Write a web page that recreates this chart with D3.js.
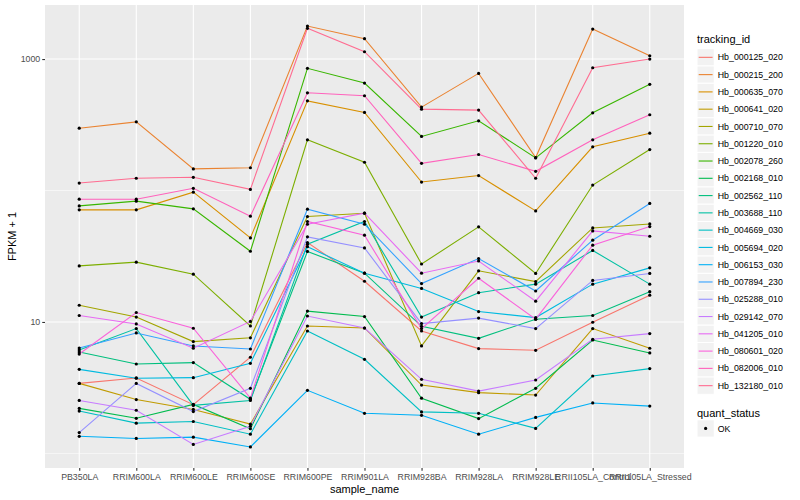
<!DOCTYPE html>
<html>
<head>
<meta charset="utf-8">
<script src="https://cdn.jsdelivr.net/npm/d3@7/dist/d3.min.js"></script>
<style>
  body { margin: 0; background: #fff; }
  text { font-family: "Liberation Sans", Arial, sans-serif; }
</style>
</head>
<body>
<svg id="chart" width="800" height="500"></svg>
<script>
// samples on the x axis
var samples = ["PB350LA", "RRIM600LA", "RRIM600LE", "RRIM600SE", "RRIM600PE", "RRIM901LA",
  "RRIM928BA", "RRIM928LA", "RRIM928LE", "RRII105LA_Control", "RRII105LA_Stressed"];

// FPKM + 1 per tracking id, one value per sample
var hb_000125_020 = [3.41, 3.75, 2.35, 5.39, 40.2, 20.4, 8.54, 6.27, 6.09, 9.95, 16.0];
var hb_000215_200 = [298, 333, 146, 149, 1783, 1428, 431, 778, 178, 1692, 1060];
var hb_000635_070 = [71.3, 71.3, 97.1, 43.6, 481, 393, 116, 130, 70.0, 215, 273];
var hb_000641_020 = [3.41, 2.57, 2.16, 1.67, 9.32, 9.00, 3.31, 2.90, 2.78, 8.91, 6.31];
var hb_000710_070 = [13.4, 10.9, 7.09, 7.58, 63.4, 67.2, 6.57, 24.5, 20.3, 51.9, 55.7];
var hb_001220_010 = [26.7, 28.5, 23.1, 9.32, 243, 164, 27.6, 52.9, 23.4, 110, 205];
var hb_002078_260 = [76.4, 83.0, 72.5, 34.5, 850, 657, 258, 339, 177, 390, 642];
var hb_002168_010 = [2.20, 1.85, 2.36, 1.54, 12.1, 11.0, 2.63, 1.84, 3.13, 7.29, 5.81];
var hb_002562_110 = [5.91, 4.79, 4.91, 2.58, 34.4, 23.5, 9.27, 7.51, 10.5, 11.2, 17.0];
var hb_003688_110 = [6.12, 8.91, 2.32, 2.53, 39.0, 58.1, 10.9, 16.7, 19.4, 35.0, 19.4];
var hb_004669_030 = [2.10, 1.70, 1.75, 1.40, 8.54, 5.20, 2.07, 2.02, 1.55, 3.88, 4.42];
var hb_005694_020 = [4.36, 3.73, 3.77, 4.85, 37.4, 23.5, 18.0, 12.0, 10.8, 19.4, 25.8];
var hb_006153_030 = [1.35, 1.30, 1.33, 1.12, 3.02, 2.02, 1.95, 1.40, 1.88, 2.42, 2.29];
var hb_007894_230 = [6.34, 8.25, 6.57, 6.23, 72.1, 55.4, 19.6, 30.4, 17.2, 41.9, 79.7];
var hb_025288_010 = [1.44, 3.41, 2.08, 3.13, 44.4, 36.6, 9.72, 10.7, 8.91, 20.7, 23.4];
var hb_029142_070 = [2.53, 2.13, 1.17, 1.61, 11.1, 9.00, 3.66, 2.98, 3.62, 7.38, 8.16];
var hb_041205_010 = [11.2, 9.66, 6.31, 10.1, 55.4, 67.2, 23.5, 29.1, 14.4, 49.3, 44.9];
var hb_080601_020 = [5.70, 11.8, 8.96, 2.63, 58.1, 45.7, 8.91, 21.5, 10.5, 38.4, 53.2];
var hb_082006_010 = [85.9, 85.9, 104, 63.8, 554, 526, 161, 188, 140, 243, 377];
var hb_132180_010 = [114, 124, 126, 102, 1713, 1137, 416, 409, 124, 859, 1000];

var trackingIds = ["Hb_000125_020", "Hb_000215_200", "Hb_000635_070", "Hb_000641_020", "Hb_000710_070",
  "Hb_001220_010", "Hb_002078_260", "Hb_002168_010", "Hb_002562_110", "Hb_003688_110",
  "Hb_004669_030", "Hb_005694_020", "Hb_006153_030", "Hb_007894_230", "Hb_025288_010",
  "Hb_029142_070", "Hb_041205_010", "Hb_080601_020", "Hb_082006_010", "Hb_132180_010"];
var seriesValues = [hb_000125_020, hb_000215_200, hb_000635_070, hb_000641_020, hb_000710_070,
  hb_001220_010, hb_002078_260, hb_002168_010, hb_002562_110, hb_003688_110,
  hb_004669_030, hb_005694_020, hb_006153_030, hb_007894_230, hb_025288_010,
  hb_029142_070, hb_041205_010, hb_080601_020, hb_082006_010, hb_132180_010];
var quantStatus = ["OK"];
var yTicks = [10, 1000];
var yMinor = [1, 100];

// default ggplot hue palette for 20 groups
var palette = ["#F8766D", "#EA8331", "#D89000", "#C09B00", "#A3A500", "#7CAE00", "#39B600", "#00BB4E",
  "#00BF7D", "#00C1A3", "#00BFC4", "#00BAE0", "#00B0F6", "#35A2FF", "#9590FF", "#C77CFF",
  "#E76BF3", "#FA62DB", "#FF62BC", "#FF6C91"];

var series = trackingIds.map(function(id, i) {
  return { id: id, values: seriesValues[i].map(function(v, j) { return { sample: samples[j], value: v }; }) };
});

// panel box
var panel = { left: 45, right: 684, top: 5, bottom: 468 };
var svg = d3.select("#chart");

var x = d3.scalePoint()
  .domain(samples)
  .range([panel.left, panel.right])
  .padding(0.6);

// log scale with ggplot's 5% expansion
var all = d3.merge(seriesValues);
var lo = Math.log10(d3.min(all)), hi = Math.log10(d3.max(all));
var pad = (hi - lo) * 0.05;
var y = d3.scaleLog()
  .domain([Math.pow(10, lo - pad), Math.pow(10, hi + pad)])
  .range([panel.bottom, panel.top]);

var color = d3.scaleOrdinal().domain(trackingIds).range(palette);

svg.append("rect")
  .attr("x", panel.left).attr("y", panel.top)
  .attr("width", panel.right - panel.left).attr("height", panel.bottom - panel.top)
  .attr("fill", "#EBEBEB");

// grid
svg.append("g").selectAll("line").data(yMinor).enter().append("line")
  .attr("x1", panel.left).attr("x2", panel.right)
  .attr("y1", function(d) { return y(d); }).attr("y2", function(d) { return y(d); })
  .attr("stroke", "#fff").attr("stroke-width", 0.55);
svg.append("g").selectAll("line").data(yTicks).enter().append("line")
  .attr("x1", panel.left).attr("x2", panel.right)
  .attr("y1", function(d) { return y(d); }).attr("y2", function(d) { return y(d); })
  .attr("stroke", "#fff").attr("stroke-width", 1.1);
svg.append("g").selectAll("line").data(samples).enter().append("line")
  .attr("x1", function(d) { return x(d); }).attr("x2", function(d) { return x(d); })
  .attr("y1", panel.top).attr("y2", panel.bottom)
  .attr("stroke", "#fff").attr("stroke-width", 1.1);

// lines then points
var line = d3.line()
  .x(function(d) { return x(d.sample); })
  .y(function(d) { return y(d.value); });

svg.append("g").selectAll("path").data(series).enter().append("path")
  .attr("d", function(d) { return line(d.values); })
  .attr("fill", "none")
  .attr("stroke", function(d) { return color(d.id); })
  .attr("stroke-width", 1.1);

svg.append("g").selectAll("circle")
  .data(d3.merge(series.map(function(s) { return s.values; })))
  .enter().append("circle")
  .attr("cx", function(d) { return x(d.sample); })
  .attr("cy", function(d) { return y(d.value); })
  .attr("r", 1.6)
  .attr("fill", "#000");

// axes
var xAxis = svg.append("g")
  .attr("transform", "translate(0," + panel.bottom + ")")
  .call(d3.axisBottom(x).tickSize(2.75).tickPadding(3));
var yAxis = svg.append("g")
  .attr("transform", "translate(" + panel.left + ",0)")
  .call(d3.axisLeft(y).tickValues(yTicks).tickFormat(d3.format("d")).tickSize(2.75).tickPadding(2));
[xAxis, yAxis].forEach(function(a) {
  a.select(".domain").remove();
  a.selectAll(".tick line").attr("stroke", "#333333").attr("stroke-width", 1.1);
  a.selectAll(".tick text").attr("fill", "#4D4D4D")
    .style("font-size", "8.8px").style("font-family", "Liberation Sans, Arial, sans-serif");
});

svg.append("text")
  .attr("x", (panel.left + panel.right) / 2)
  .attr("y", 493)
  .attr("text-anchor", "middle")
  .style("font-size", "11px")
  .text("sample_name");
svg.append("text")
  .attr("transform", "translate(16," + ((panel.top + panel.bottom) / 2) + ") rotate(-90)")
  .attr("text-anchor", "middle")
  .style("font-size", "11px")
  .text("FPKM + 1");

// legend: tracking_id
var legX = 697, keyH = 17.28, legY0 = 48.7;
svg.append("text").attr("x", legX).attr("y", 43).style("font-size", "11px").text("tracking_id");
var keys = svg.append("g").selectAll("g").data(trackingIds).enter().append("g")
  .attr("transform", function(d, i) { return "translate(" + legX + "," + (legY0 + i * keyH) + ")"; });
keys.append("rect").attr("width", keyH).attr("height", keyH)
  .attr("fill", "#F2F2F2").attr("stroke", "#fff").attr("stroke-width", 1);
keys.append("line")
  .attr("x1", 1.7).attr("x2", keyH - 1.7).attr("y1", keyH / 2).attr("y2", keyH / 2)
  .attr("stroke", function(d) { return color(d); }).attr("stroke-width", 1.1);
keys.append("text")
  .attr("x", keyH + 3.5).attr("y", keyH / 2 + 3.1)
  .style("font-size", "8.8px").text(function(d) { return d; });

// legend: quant_status
svg.append("text").attr("x", legX).attr("y", 417).style("font-size", "11px").text("quant_status");
var qkeys = svg.append("g").selectAll("g").data(quantStatus).enter().append("g")
  .attr("transform", function(d, i) { return "translate(" + legX + "," + (419.8 + i * keyH) + ")"; });
qkeys.append("rect").attr("width", keyH).attr("height", keyH)
  .attr("fill", "#F2F2F2").attr("stroke", "#fff").attr("stroke-width", 1);
qkeys.append("circle").attr("cx", keyH / 2).attr("cy", keyH / 2).attr("r", 1.6).attr("fill", "#000");
qkeys.append("text")
  .attr("x", keyH + 3.5).attr("y", keyH / 2 + 3.1)
  .style("font-size", "8.8px").text(function(d) { return d; });
</script>
</body>
</html>
